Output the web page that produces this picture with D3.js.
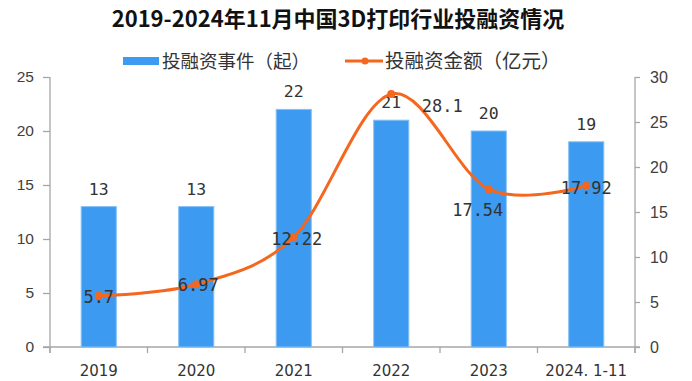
<!DOCTYPE html>
<html><head><meta charset="utf-8">
<script src="https://cdn.jsdelivr.net/npm/d3@7"></script>
<style>body{margin:0;background:#fff}svg{display:block}</style>
</head><body>
<svg id="c" width="692" height="381"></svg>
<script>
const categories = ["2019","2020","2021","2022","2023","2024. 1-11"];
const eventCounts = [13,13,22,21,20,19];
const amounts = [5.7,6.97,12.22,28.1,17.54,17.92];
const amountLabels = ["5.7","6.97","12.22","28.1","17.54","17.92"];
const leftTicks = [0,5,10,15,20,25];
const rightTicks = [0,5,10,15,20,25,30];

const svg = d3.select("#c");
const m = {l:50, r:635, t:77, b:347};
const x = d3.scaleBand().domain(categories).range([m.l, m.r]).paddingInner(0.64).paddingOuter(0.32);
const yL = d3.scaleLinear().domain([0,25]).range([m.b, m.t]);
const yR = d3.scaleLinear().domain([0,30]).range([m.b, m.t]);
const tickFont = "'Liberation Sans', Arial, sans-serif";
const cjk = "'Noto Sans CJK SC', sans-serif";
const labelFont = "'DejaVu Sans Mono', monospace";
const axisColor = "#a6a6a6";
const blue = "#3c9af0", orange = "#f5661e";

svg.append("text").attr("x",338).attr("y",27).attr("text-anchor","middle")
  .attr("font-family",cjk).attr("font-weight","bold").attr("font-size",22).attr("fill","#111")
  .text("2019-2024年11月中国3D打印行业投融资情况");

// legend
const lg = svg.append("g");
lg.append("rect").attr("x",123).attr("y",57).attr("width",36).attr("height",8).attr("fill",blue);
lg.append("text").attr("x",162).attr("y",68).attr("font-family",cjk).attr("font-size",18.5).attr("fill","#333").text("投融资事件（起）");
lg.append("line").attr("x1",345).attr("x2",383).attr("y1",61).attr("y2",61).attr("stroke",orange).attr("stroke-width",3);
lg.append("circle").attr("cx",365).attr("cy",61).attr("r",3.5).attr("fill",orange);
lg.append("text").attr("x",385).attr("y",68).attr("font-family",cjk).attr("font-size",19.5).attr("fill","#333").text("投融资金额（亿元）");

// axes
function styleAxis(g){
  g.selectAll("path,line").attr("stroke",axisColor).attr("stroke-width",1.3);
  g.selectAll("text").attr("font-family",tickFont).attr("font-size",15.5).attr("fill","#404040");
}
const gl = svg.append("g").attr("transform",`translate(${m.l},0)`)
  .call(d3.axisLeft(yL).tickValues(leftTicks).tickSize(7).tickSizeOuter(0).tickPadding(9));
styleAxis(gl);
gl.select("path.domain").attr("d",`M0,${m.t}V${m.b+6}`);
const gr = svg.append("g").attr("transform",`translate(${m.r},0)`)
  .call(d3.axisRight(yR).tickValues(rightTicks).tickSize(5).tickSizeOuter(0).tickPadding(10));
styleAxis(gr);
gr.select("path.domain").attr("d",`M0,${m.t}V${m.b+6}`);
gr.selectAll("text").attr("font-size",16);

// x axis with ticks between categories
const gx = svg.append("g").attr("transform",`translate(0,${m.b})`);
gx.append("line").attr("x1",m.l-7).attr("x2",m.r+5).attr("stroke",axisColor).attr("stroke-width",1.3);
const bounds = d3.range(categories.length+1).map(i => m.l + i*x.step());
gx.selectAll("line.t").data(bounds).join("line").attr("class","t")
  .attr("x1",d=>d).attr("x2",d=>d).attr("y1",0).attr("y2",6).attr("stroke",axisColor).attr("stroke-width",1.3);
gx.selectAll("text").data(categories).join("text")
  .attr("x",d=>x(d)+x.bandwidth()/2).attr("y",29).attr("text-anchor","middle")
  .attr("font-family","'DejaVu Sans', sans-serif").attr("font-size",15).attr("fill","#333").text(d=>d);

// bars
svg.selectAll("rect.bar").data(eventCounts).join("rect").attr("class","bar")
  .attr("x",(d,i)=>x(categories[i])).attr("width",x.bandwidth())
  .attr("y",d=>yL(d)).attr("height",d=>m.b-yL(d)).attr("fill",blue).attr("stroke","#86c0f6").attr("stroke-width",1);
svg.selectAll("text.bl").data(eventCounts).join("text").attr("class","bl")
  .attr("x",(d,i)=>x(categories[i])+x.bandwidth()/2).attr("y",d=>yL(d)-12).attr("text-anchor","middle")
  .attr("font-family",labelFont).attr("font-size",16.5).attr("fill","#333").text(d=>d);

// line
const cx = i => x(categories[i])+x.bandwidth()/2;
const line = d3.line().x((d,i)=>cx(i)).y(d=>yR(d)).curve(d3.curveCardinal.tension(0));
svg.append("path").datum(amounts).attr("d",line).attr("fill","none").attr("stroke",orange).attr("stroke-width",3);
svg.selectAll("circle.pt").data(amounts).join("circle").attr("class","pt")
  .attr("cx",(d,i)=>cx(i)).attr("cy",d=>yR(d)).attr("r",4).attr("fill",orange);
const off = [[0,7],[2,7],[3,8],[51,18],[-11,27],[0,8]];
svg.selectAll("text.ll").data(amounts).join("text").attr("class","ll")
  .attr("x",(d,i)=>cx(i)+off[i][0]).attr("y",(d,i)=>yR(d)+off[i][1]).attr("text-anchor","middle")
  .attr("font-family",labelFont).attr("font-size",17).attr("fill","#333")
  .text((d,i)=>amountLabels[i]);
</script>
</body></html>
